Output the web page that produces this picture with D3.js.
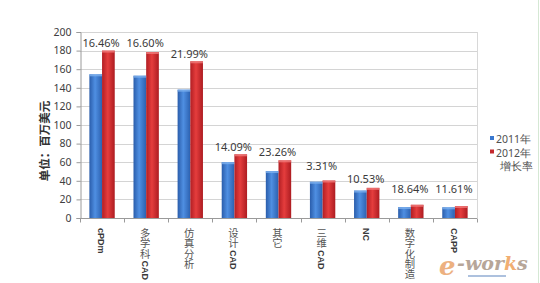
<!DOCTYPE html>
<html>
<head>
<meta charset="utf-8">
<script src="https://cdn.jsdelivr.net/npm/d3@7"></script>
<style>
  body { margin: 0; background: #fff; }
  svg { display: block; }
</style>
</head>
<body>
<svg id="chart" width="540" height="283"></svg>
<script>
// data (unit: million USD)
const categories = ["cPDm", "多学科CAD", "仿真分析", "设计CAD", "其它", "三维CAD", "NC", "数字化制造", "CAPP"]
const series = ["2011年", "2012年"]
const values2011 = [154.5, 153, 138, 60, 50.5, 39, 29.5, 11.8, 11.5]
const values2012 = [180, 178.5, 168.5, 68.5, 62, 40.3, 32.4, 14.2, 12.9]
const growth = [16.46, 16.60, 21.99, 14.09, 23.26, 3.31, 10.53, 18.64, 11.61]
// level (in axis units) where each growth label sits
const growthLabelAt = [184, 184, 172, 72, 66.5, 51.5, 37.5, 27, 27]
const yTicks = [0, 20, 40, 60, 80, 100, 120, 140, 160, 180, 200]

const svg = d3.select("#chart")
const plot = {left: 80, right: 477, top: 32, bottom: 218}
const numFont = "'Noto Sans', 'Open Sans', sans-serif"
const cjkFont = "'Noto Sans CJK SC', sans-serif"
const latinFont = "'Liberation Sans', Arial, sans-serif"

const x = d3.scaleBand()
  .domain(categories)
  .range([plot.left, plot.right])

const xs = d3.scaleBand()
  .domain(series)
  .range([0, x.bandwidth()])
  .paddingOuter(0.74)

const y = d3.scaleLinear()
  .domain([0, 200])
  .range([plot.bottom, plot.top])

// gradients for the bars
const defs = svg.append("defs")
const grads = {
  blue: ["#2a5dab", "#4f8fe2", "#2c61b0"],
  red: ["#b21e23", "#e53d3d", "#ad1c21"]
}
Object.entries(grads).forEach(([k, c]) => {
  const g = defs.append("linearGradient").attr("id", "g-" + k)
    .attr("x1", 0).attr("x2", 1).attr("y1", 0).attr("y2", 0)
  g.append("stop").attr("offset", "0%").attr("stop-color", c[0])
  g.append("stop").attr("offset", "45%").attr("stop-color", c[1])
  g.append("stop").attr("offset", "100%").attr("stop-color", c[2])
})

// grid
svg.append("g")
  .selectAll("line")
  .data(yTicks.slice(1))
  .join("line")
    .attr("x1", plot.left).attr("x2", plot.right)
    .attr("y1", d => Math.round(y(d)) + 0.5).attr("y2", d => Math.round(y(d)) + 0.5)
    .attr("stroke", "#d4d4d4")

// right border of plot
svg.append("line")
  .attr("x1", plot.right + 0.5).attr("x2", plot.right + 0.5)
  .attr("y1", plot.top).attr("y2", plot.bottom)
  .attr("stroke", "#d8d8d8")

// y axis
const yAxis = svg.append("g")
  .attr("transform", `translate(${plot.left + 0.5},0)`)
  .call(d3.axisLeft(y).tickValues(yTicks).tickSize(4).tickPadding(5))
yAxis.selectAll("path,line").attr("stroke", "#9a9a9a")
yAxis.selectAll("text")
  .attr("font-family", numFont).attr("font-size", 10.5).attr("fill", "#404040")

// x axis with ticks at category boundaries
const xAxis = svg.append("g")
  .attr("transform", `translate(0,${plot.bottom + 0.5})`)
xAxis.append("line")
  .attr("x1", plot.left).attr("x2", plot.right)
  .attr("stroke", "#9a9a9a")
xAxis.selectAll("line.tick")
  .data(categories.concat(["end"]))
  .join("line").attr("class", "tick")
    .attr("x1", (d, i) => Math.round(plot.left + i * x.step()) + 0.5)
    .attr("x2", (d, i) => Math.round(plot.left + i * x.step()) + 0.5)
    .attr("y1", 0).attr("y2", 4)
    .attr("stroke", "#9a9a9a")

// category labels: stacked vertically, CJK upright, latin turned
const cjkSize = 10.3
const latinSize = 9
const catG = svg.append("g")
categories.forEach(c => {
  const cx = x(c) + x.bandwidth() / 2 - 1
  let cur = 228
  c.match(/[A-Za-z]+|[^A-Za-z]+/g).forEach(part => {
    if (/[A-Za-z]/.test(part)) {
      const t = catG.append("text")
        .attr("transform", `translate(${cx - 3.2},${cur}) rotate(90)`)
        .attr("font-family", latinFont)
        .attr("font-weight", "bold")
        .attr("font-size", latinSize)
        .attr("fill", "#3a3a3a")
        .text(part)
      cur += t.node().getComputedTextLength() + 1
    } else {
      catG.append("text")
        .attr("x", cx).attr("y", cur)
        .style("writing-mode", "vertical-rl")
        .style("text-orientation", "upright")
        .attr("font-family", cjkFont)
        .attr("font-size", cjkSize)
        .attr("fill", "#555")
        .text(part)
      cur += Array.from(part).length * cjkSize + 1.5
    }
  })
})

// bars
const rows = categories.map((c, i) => ({c, vals: [values2011[i], values2012[i]]}))
const group = svg.append("g")
  .selectAll("g")
  .data(rows)
  .join("g")
    .attr("transform", d => `translate(${x(d.c)},0)`)

group.selectAll("rect.bar")
  .data(d => d.vals.map((v, j) => ({s: series[j], v, j})))
  .join("rect").attr("class", "bar")
    .attr("x", d => xs(d.s))
    .attr("y", d => y(d.v))
    .attr("width", xs.bandwidth())
    .attr("height", d => y(0) - y(d.v))
    .attr("fill", d => d.j === 0 ? "url(#g-blue)" : "url(#g-red)")

group.selectAll("rect.cap")
  .data(d => d.vals.map((v, j) => ({s: series[j], v, j})))
  .join("rect").attr("class", "cap")
    .attr("x", d => xs(d.s))
    .attr("y", d => y(d.v))
    .attr("width", xs.bandwidth())
    .attr("height", 2)
    .attr("fill", d => d.j === 0 ? "#7db0ee" : "#f07a7a")
    .attr("opacity", 0.8)

// growth labels
svg.append("g")
  .selectAll("text")
  .data(categories)
  .join("text")
    .attr("x", (d, i) => x(d) + x.bandwidth() / 2 - 1)
    .attr("y", (d, i) => y(growthLabelAt[i]))
    .attr("text-anchor", "middle")
    .attr("font-family", numFont)
    .attr("font-size", 11)
    .attr("fill", "#3a3a3a")
    .text((d, i) => growth[i].toFixed(2) + "%")

// y axis title
svg.append("text")
  .attr("transform", "translate(49,141) rotate(-90)")
  .attr("text-anchor", "middle")
  .attr("font-family", cjkFont)
  .attr("font-weight", "bold")
  .attr("font-size", 11.5)
  .attr("fill", "#333")
  .text("单位：百万美元")

// legend
const legendItems = [
  {label: "2011年", color: "#3a78cf"},
  {label: "2012年", color: "#c4282d"},
  {label: "增长率", color: null}
]
const legend = svg.append("g")
  .selectAll("g")
  .data(legendItems)
  .join("g")
    .attr("transform", (d, i) => `translate(490,${139 + i * 13.5})`)
legend.filter(d => d.color)
  .append("rect")
    .attr("x", 0).attr("y", -3).attr("width", 4).attr("height", 4)
    .attr("fill", d => d.color)
legend.append("text")
  .attr("x", d => d.color ? 6 : 10).attr("y", 4)
  .attr("font-family", numFont)
  .attr("font-size", 10.5)
  .attr("fill", "#505050")
  .text(d => d.label)

// outer frame edge on the right
svg.append("line")
  .attr("x1", 538.5).attr("x2", 538.5).attr("y1", 0).attr("y2", 283)
  .attr("stroke", "#d5e8d4")

// watermark
svg.append("text")
  .attr("x", 439).attr("y", 275)
  .attr("font-family", "'DejaVu Serif', serif")
  .attr("font-style", "italic")
  .attr("font-weight", "bold")
  .attr("font-size", 26)
  .attr("fill", "#eaa46a")
  .attr("opacity", 0.85)
  .text("e")
const wm = svg.append("text")
  .attr("x", 457).attr("y", 270)
  .attr("font-family", "'DejaVu Serif', serif")
  .attr("font-style", "italic")
  .attr("font-weight", "bold")
  .attr("font-size", 19)
  .attr("opacity", 0.8)
wm.append("tspan").text("-wor").attr("fill", "#a69080")
wm.append("tspan").text("k").attr("fill", "#ee9a50")
wm.append("tspan").text("s").attr("fill", "#a69080")
svg.append("rect")
  .attr("x", 468).attr("y", 275).attr("width", 38).attr("height", 2)
  .attr("fill", "#8aa6d0").attr("opacity", 0.7)
</script>
</body>
</html>
